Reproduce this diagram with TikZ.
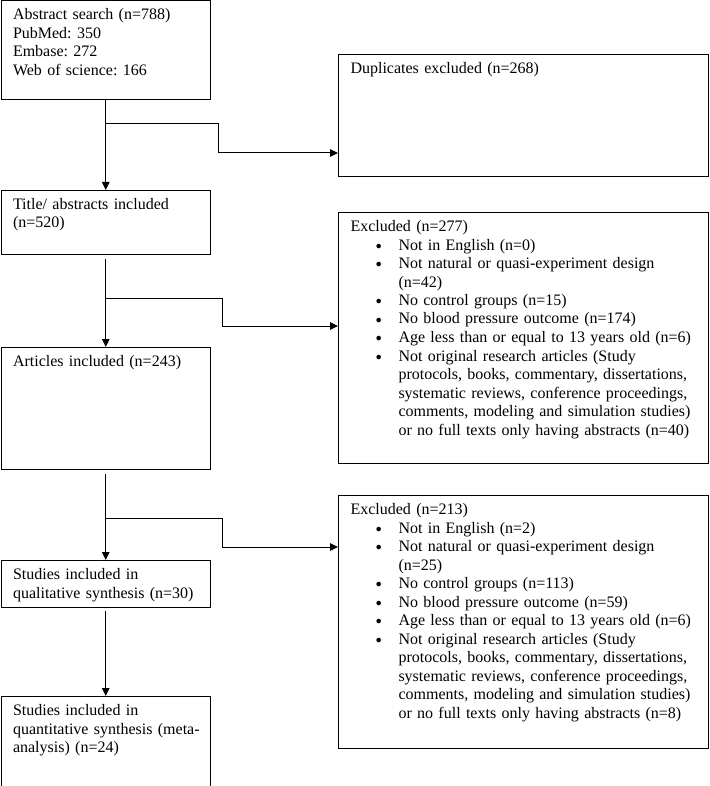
\documentclass[tikz,border=0pt]{standalone}
\usepackage{fontspec}
\setmainfont{Liberation Serif}
\usetikzlibrary{arrows.meta}
\frenchspacing
\newcommand{\dotmark}{\raisebox{1pt}{\fontsize{10.5}{0}\selectfont\symbol{"25CF}}}
\newcommand{\bul}[1]{\mbox{\hspace*{25pt}\makebox[23pt][l]{\dotmark}#1}}
\newcommand{\cont}[1]{\mbox{\hspace*{48pt}#1}}

\begin{document}
\begin{tikzpicture}[x=1pt, y=-1pt, >={Triangle[length=8pt,width=7.5pt]},
  every node/.style={font=\fontsize{16}{18.5}\selectfont},
  flowbox/.style={draw, line width=1pt, anchor=north west, align=left, inner xsep=12pt, inner ysep=7pt, text height=12pt},
  leftbox/.style={flowbox, text width=185.5pt},
  rightbox/.style={flowbox, text width=346pt},
  flow/.style={->, line width=1pt}]
  \useasboundingbox (0,0) rectangle (709,786);
  % left column
  \node[leftbox, text depth=72.5pt] (search) at (0.5,0.5) {Abstract search (n=788)\\PubMed: 350\\Embase: 272\\Web of science: 166};
  \node[leftbox, text depth=38pt] (title) at (0.5,190) {Title/ abstracts included\\(n=520)};
  \node[leftbox, text depth=96pt] (articles) at (0.5,347) {Articles included (n=243)};
  \node[leftbox, text depth=21pt] (qual) at (0.5,560) {Studies included in\\qualitative synthesis (n=30)};
  \node[leftbox, text depth=63.5pt] (quant) at (0.5,696) {Studies included in\\\mbox{quantitative synthesis (meta-}\\analysis) (n=24)};
  % right column
  \node[rightbox, text depth=96pt] (dupl) at (338,54) {Duplicates excluded (n=268)};
  \node[rightbox, text depth=225pt] (excla) at (338,212) {Excluded (n=277)\\
    \bul{Not in English (n=0)}\\
    \bul{Not natural or quasi-experiment design}\\
    \cont{(n=42)}\\
    \bul{No control groups (n=15)}\\
    \bul{No blood pressure outcome (n=174)}\\
    \bul{Age less than or equal to 13 years old (n=6)}\\
    \bul{Not original research articles (Study}\\
    \cont{protocols, books, commentary, dissertations,}\\
    \cont{systematic reviews, conference proceedings,}\\
    \cont{comments, modeling and simulation studies)}\\
    \cont{or no full texts only having abstracts (n=40)}};
  \node[rightbox, text depth=227pt] (exclb) at (338,495) {Excluded (n=213)\\
    \bul{Not in English (n=2)}\\
    \bul{Not natural or quasi-experiment design}\\
    \cont{(n=25)}\\
    \bul{No control groups (n=113)}\\
    \bul{No blood pressure outcome (n=59)}\\
    \bul{Age less than or equal to 13 years old (n=6)}\\
    \bul{Not original research articles (Study}\\
    \cont{protocols, books, commentary, dissertations,}\\
    \cont{systematic reviews, conference proceedings,}\\
    \cont{comments, modeling and simulation studies)}\\
    \cont{or no full texts only having abstracts (n=8)}};
  % connectors
  \draw[flow] (search) -- (title);
  \coordinate (fork1) at (105.25,124);
  \coordinate (bend1) at (218,153);
  \draw[flow] (fork1) -| (bend1) -- (bend1 -| dupl.west);
  \draw[flow, shorten <=4pt] (title) -- (articles);
  \coordinate (fork2) at (105.25,298);
  \coordinate (bend2) at (222,326);
  \draw[flow] (fork2) -| (bend2) -- (bend2 -| excla.west);
  \draw[flow, shorten <=4pt] (articles) -- (qual);
  \coordinate (fork3) at (105.25,518);
  \coordinate (bend3) at (222,547);
  \draw[flow] (fork3) -| (bend3) -- (bend3 -| exclb.west);
  \draw[flow, shorten <=3pt] (qual) -- (quant);
\end{tikzpicture}
\end{document}
